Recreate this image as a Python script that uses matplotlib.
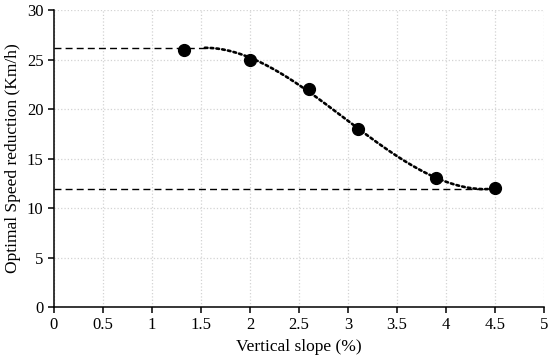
import numpy as np
import matplotlib
matplotlib.use("Agg")
import matplotlib.pyplot as plt

# measured points
slope = [1.33, 2.0, 2.6, 3.1, 3.9, 4.5]
speed_red = [26, 25, 22, 18, 13, 12]

plt.rcParams['font.family'] = ['Liberation Serif', 'DejaVu Serif']

fig = plt.figure(figsize=(5.5, 3.6), dpi=100)
ax = fig.add_axes([0.098, 0.147, 0.891, 0.825])

# cubic trend line (like the spreadsheet trendline)
coef = np.polyfit(slope, speed_red, 3)
poly = np.poly1d(coef)
crit = np.sort(np.real(poly.deriv().r))
x_hi, x_lo = crit[0], crit[1]
xs = np.linspace(x_hi, slope[-1], 200)
ax.plot(xs, poly(xs), color='black', linestyle=(0, (1, 1.2)), linewidth=1.9,
        dash_capstyle='round', zorder=3)

# dashed plateau lines
ax.plot([0, x_hi], [poly(x_hi), poly(x_hi)], color='black', linestyle=(0, (5, 3)), linewidth=1.0)
ax.plot([0, x_lo], [poly(x_lo), poly(x_lo)], color='black', linestyle=(0, (5, 3)), linewidth=1.0)

ax.plot(slope, speed_red, 'o', color='black', markersize=8.5, zorder=4)

ax.set_xlim(0, 5)
ax.set_ylim(0, 30)
ax.set_xticks(np.arange(0, 5.01, 0.5))
ax.set_xticklabels(['0', '0.5', '1', '1.5', '2', '2.5', '3', '3.5', '4', '4.5', '5'])
ax.set_yticks(range(0, 31, 5))
ax.grid(True, color='#d3d3d3', linestyle=':', linewidth=0.9)
ax.set_axisbelow(True)
for s in ['top', 'right']:
    ax.spines[s].set_visible(False)
for s in ['left', 'bottom']:
    ax.spines[s].set_linewidth(1.1)
ax.tick_params(direction='out', length=4, width=1.1, labelsize=12)
ax.set_xlabel('Vertical slope (%)', fontsize=12.5)
ax.set_ylabel('Optimal Speed reduction (Km/h)', fontsize=12.5)

fig.savefig('out.png', dpi=100)
